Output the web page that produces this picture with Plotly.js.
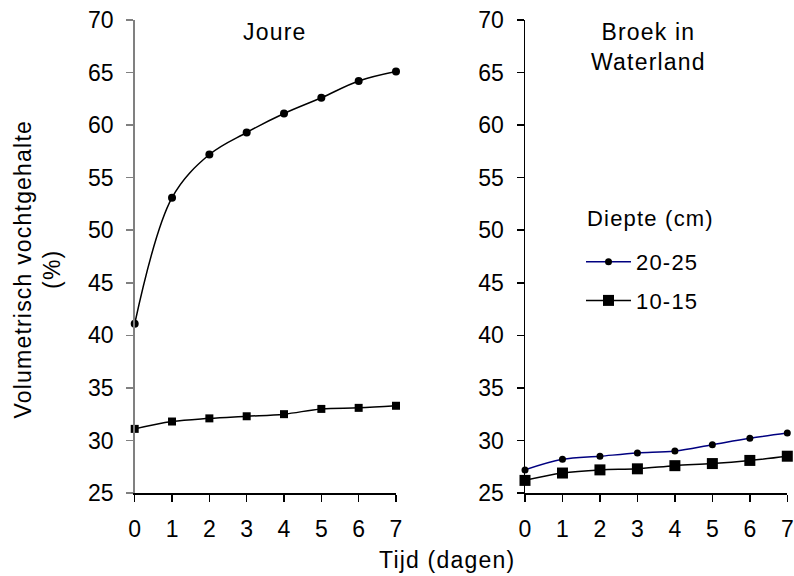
<!DOCTYPE html>
<html>
<head>
<meta charset="utf-8">
<script src="https://cdn.plot.ly/plotly-3.0.1.min.js"></script>
<style>
html,body{margin:0;padding:0;background:#fff;}
.annotation-text, .legendtext { letter-spacing: 1.2px; }
</style>
</head>
<body>
<div id="chart" style="width:794px;height:576px;"></div>
<script>
const days = [0, 1, 2, 3, 4, 5, 6, 7];
const joure_20_25 = [41.1, 53.1, 57.2, 59.3, 61.1, 62.6, 64.2, 65.1];
const joure_10_15 = [31.1, 31.8, 32.1, 32.3, 32.5, 33.0, 33.1, 33.3];
const broek_20_25 = [27.2, 28.2, 28.5, 28.8, 29.0, 29.6, 30.2, 30.7];
const broek_10_15 = [26.2, 26.9, 27.2, 27.3, 27.6, 27.8, 28.1, 28.5];
const yTicks = [25, 30, 35, 40, 45, 50, 55, 60, 65, 70];
const xTicks = [0, 1, 2, 3, 4, 5, 6, 7];

const FONT = 'Liberation Sans, Arial, sans-serif';
const W = 794, H = 576;
const px = v => v / W, py = v => 1 - v / H;

const traces = [
  {x: days, y: joure_20_25, xaxis: 'x', yaxis: 'y', mode: 'lines+markers', name: '20-25',
   showlegend: false, cliponaxis: false,
   line: {color: '#000000', width: 1.5, shape: 'spline', smoothing: 1},
   marker: {symbol: 'circle', size: 8, color: '#000000'}},
  {x: days, y: joure_10_15, xaxis: 'x', yaxis: 'y', mode: 'lines+markers', name: '10-15',
   showlegend: false, cliponaxis: false,
   line: {color: '#000000', width: 1.5, shape: 'spline', smoothing: 1},
   marker: {symbol: 'square', size: 8, color: '#000000'}},
  {x: days, y: broek_20_25, xaxis: 'x2', yaxis: 'y2', mode: 'lines+markers', name: '20-25',
   legendgroup: 'a', cliponaxis: false,
   line: {color: '#000080', width: 1.5, shape: 'spline', smoothing: 1},
   marker: {symbol: 'circle', size: 7, color: '#000000'}},
  {x: days, y: broek_10_15, xaxis: 'x2', yaxis: 'y2', mode: 'lines+markers', name: '10-15',
   legendgroup: 'b', cliponaxis: false,
   line: {color: '#000000', width: 1.5, shape: 'spline', smoothing: 1},
   marker: {symbol: 'square', size: 11, color: '#000000'}}
];

const yCommon = {
  range: [25, 70], tickvals: yTicks, ticktext: yTicks.map(String),
  ticks: 'outside', ticklen: 7, showgrid: false, zeroline: false,
  showline: true, linewidth: 1.5, tickwidth: 1.5,
  tickfont: {family: FONT, size: 23, color: '#000'}, ticklabelstandoff: 8,
  domain: [py(493), py(20)]
};
const xCommon = {
  range: [0, 7], tickvals: xTicks, ticktext: xTicks.map(String),
  ticks: 'outside', ticklen: 7, showgrid: false, zeroline: false,
  showline: true, linewidth: 1.5, linecolor: '#000', tickcolor: '#000', tickwidth: 1.5,
  tickfont: {family: FONT, size: 23, color: '#000'}, ticklabelstandoff: 8
};

const layout = {
  width: W, height: H,
  margin: {l: 0, r: 0, t: 0, b: 0},
  paper_bgcolor: '#fff', plot_bgcolor: '#fff',
  font: {family: FONT, color: '#000'},
  showlegend: true,
  legend: {
    x: px(581), y: py(241), xanchor: 'left', yanchor: 'top',
    bgcolor: 'rgba(0,0,0,0)', borderwidth: 0, itemwidth: 45,
    font: {family: FONT, size: 22, color: '#000'},
    tracegroupgap: 7
  },
  xaxis: Object.assign({}, xCommon, {domain: [px(134.7), px(396)], anchor: 'y'}),
  yaxis: Object.assign({}, yCommon, {anchor: 'x', linecolor: '#808080', tickcolor: '#808080'}),
  xaxis2: Object.assign({}, xCommon, {domain: [px(525), px(787.3)], anchor: 'y2'}),
  yaxis2: Object.assign({}, yCommon, {anchor: 'x2', linecolor: '#000', tickcolor: '#000'}),
  annotations: [
    {text: 'Joure', xref: 'paper', yref: 'paper', x: px(275), y: py(32), xanchor: 'center', yanchor: 'middle',
     showarrow: false, font: {family: FONT, size: 23, color: '#000'}},
    {text: 'Broek in<br>Waterland', xref: 'paper', yref: 'paper', x: px(648), y: py(47), xanchor: 'center', yanchor: 'middle',
     showarrow: false, font: {family: FONT, size: 23, color: '#000'}},
    {text: 'Diepte (cm)', xref: 'paper', yref: 'paper', x: px(585), y: py(219), xanchor: 'left', yanchor: 'middle',
     showarrow: false, font: {family: FONT, size: 22, color: '#000'}},
    {text: 'Tijd (dagen)', xref: 'paper', yref: 'paper', x: px(447), y: py(560), xanchor: 'center', yanchor: 'middle',
     showarrow: false, font: {family: FONT, size: 23, color: '#000'}},
    {text: 'Volumetrisch vochtgehalte<br>(%)', xref: 'paper', yref: 'paper', x: px(37.5), y: py(269), xanchor: 'center', yanchor: 'middle',
     textangle: -90, showarrow: false, font: {family: FONT, size: 23, color: '#000'}}
  ]
};

Plotly.newPlot('chart', traces, layout, {displayModeBar: false, staticPlot: true});
</script>
</body>
</html>
